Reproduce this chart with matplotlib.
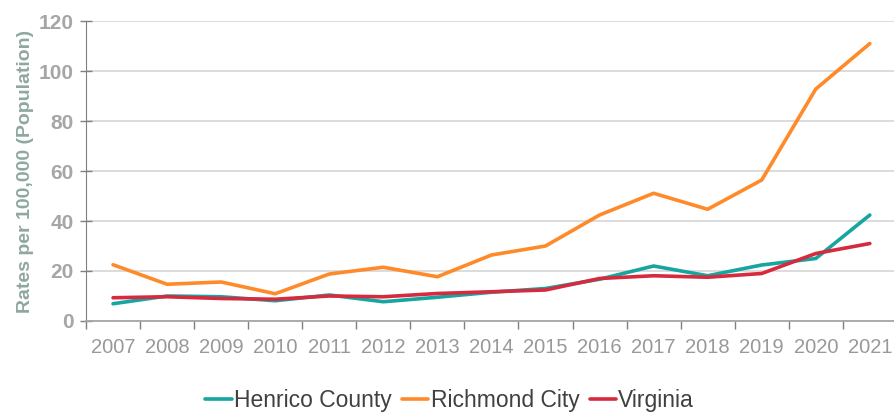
import matplotlib
matplotlib.use("Agg")
import matplotlib.pyplot as plt
import numpy as np

plt.rcParams['font.family'] = ['Liberation Sans', 'DejaVu Sans']

years = ["2007", "2008", "2009", "2010", "2011", "2012", "2013", "2014",
         "2015", "2016", "2017", "2018", "2019", "2020", "2021"]
henrico = [6.9, 10.0, 9.7, 8.1, 10.4, 7.7, 9.5, 11.5, 13.0, 16.7, 22.0, 18.1, 22.4, 25.0, 42.4]
richmond = [22.5, 14.7, 15.6, 10.9, 18.8, 21.5, 17.7, 26.4, 30.0, 42.4, 51.1, 44.7, 56.4, 92.8, 111.0]
virginia = [9.3, 9.7, 9.0, 8.7, 10.0, 9.7, 11.0, 11.7, 12.4, 17.0, 18.1, 17.5, 19.0, 27.0, 31.0]
yticks = [0, 20, 40, 60, 80, 100, 120]

fig = plt.figure(figsize=(8.94, 4.12), dpi=100)
ax = fig.add_axes([0.0962, 0.2209, 0.907, 0.728])

x = np.arange(len(years))
ax.plot(x, henrico, color="#17a5a0", lw=2.6, label="Henrico County", solid_capstyle='round')
ax.plot(x, richmond, color="#ff8a2a", lw=2.6, label="Richmond City", solid_capstyle='round')
ax.plot(x, virginia, color="#d62a3e", lw=2.6, label="Virginia", solid_capstyle='round')

ax.set_xlim(-0.5, len(years) - 0.5)
ax.set_ylim(0, 120)
ax.set_yticks(yticks)
ax.set_yticklabels([str(v) for v in yticks], color="#a6a6a6", fontsize=15, fontweight='bold')
ax.set_xticks(x)
ax.set_xticklabels(years, color="#999999", fontsize=14.5)
ax.tick_params(axis='x', which='major', length=0, pad=12)
ax.set_xticks(np.arange(len(years) + 1) - 0.5, minor=True)
ax.tick_params(axis='x', which='minor', length=6, width=1, color="#7f7f7f", direction='out')
ax.tick_params(axis='y', which='major', length=8, width=1, color="#7f7f7f", direction='inout', pad=5)

ax.grid(axis='y', color="#d9d9d9", lw=1.3)
ax.set_axisbelow(True)
for s in ['top', 'right']:
    ax.spines[s].set_visible(False)
ax.spines['left'].set_color("#7f7f7f")
ax.spines['bottom'].set_color("#a6a6a6")
ax.spines['bottom'].set_linewidth(1.3)

ax.set_ylabel("Rates per 100,000 (Population)", color="#8fa89f", fontsize=14,
              fontweight='bold', labelpad=3)

fig.legend(loc='lower center', bbox_to_anchor=(0.503, -0.05), ncol=3, frameon=False,
           fontsize=16.5, handlelength=1.15, handletextpad=0.1, columnspacing=0.45,
           labelcolor="#404040")

fig.savefig("out.png", dpi=100)
